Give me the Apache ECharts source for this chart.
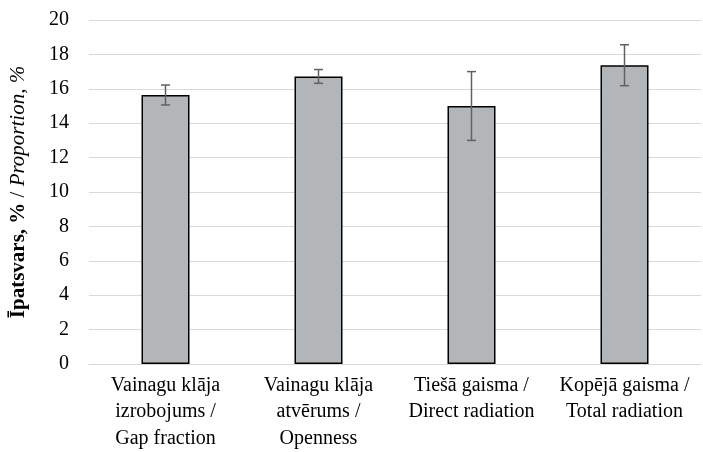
<!DOCTYPE html>
<html>
<head>
<meta charset="utf-8">
<script src="https://cdn.jsdelivr.net/npm/echarts@6/dist/echarts.min.js"></script>
<style>html,body{margin:0;padding:0;background:#fff;}#c{width:703px;height:452px;}</style>
</head>
<body>
<div id="c"></div>
<script>
const categories = [
  'Vainagu klāja\nizrobojums /\nGap fraction',
  'Vainagu klāja\natvērums /\nOpenness',
  'Tiešā gaisma /\nDirect radiation',
  'Kopējā gaisma /\nTotal radiation'
];
const values = [15.64, 16.72, 15.0, 17.37];
const errors = [0.58, 0.4, 2.0, 1.19];
const yTicks = { min: 0, max: 20, interval: 2 };

const chart = echarts.init(document.getElementById('c'), null, { renderer: 'canvas' });
const font = '"Liberation Serif", "Times New Roman", serif';

const errData = values.map((v, i) => [i, v - errors[i], v + errors[i]]);

chart.setOption({
  animation: false,
  backgroundColor: '#fff',
  grid: { left: 89, right: 2, top: 20, bottom: 88, containLabel: false, outerBoundsMode: 'none' },
  xAxis: {
    type: 'category',
    data: categories,
    axisLine: { lineStyle: { color: '#d9d9d9', width: 1 } },
    axisTick: { show: false },
    axisLabel: { fontFamily: font, fontSize: 20, color: '#000', lineHeight: 26.5, margin: 8, interval: 0 }
  },
  yAxis: {
    type: 'value',
    min: yTicks.min, max: yTicks.max, interval: yTicks.interval,
    axisLine: { show: false },
    axisTick: { show: false },
    splitLine: { lineStyle: { color: '#d9d9d9', width: 1 } },
    axisLabel: { fontFamily: font, fontSize: 20, color: '#000', margin: 20 },
    name: '{b|Īpatsvars, %} {n|/} {i|Proportion, %}',
    nameLocation: 'middle',
    nameRotate: 90,
    nameGap: 60,
    nameTextStyle: {
      fontFamily: font, fontSize: 21, color: '#000',
      rich: {
        b: { fontFamily: font, fontSize: 21, fontWeight: 'bold', color: '#000' },
        n: { fontFamily: font, fontSize: 21, color: '#000' },
        i: { fontFamily: font, fontSize: 21, fontStyle: 'italic', color: '#000' }
      }
    }
  },
  series: [
    {
      type: 'bar',
      data: values,
      barWidth: 48,
      itemStyle: { color: '#b3b6b9', borderColor: '#000', borderWidth: 1.5 }
    },
    {
      type: 'custom',
      data: errData,
      z: 10,
      renderItem: function (params, api) {
        const x = api.value(0);
        const lo = api.coord([x, api.value(1)]);
        const hi = api.coord([x, api.value(2)]);
        const hw = 4.5;
        const style = { stroke: '#5f6264', lineWidth: 1.5 };
        return {
          type: 'group',
          children: [
            { type: 'line', shape: { x1: lo[0], y1: lo[1], x2: hi[0], y2: hi[1] }, style: style },
            { type: 'line', shape: { x1: lo[0] - hw, y1: lo[1], x2: lo[0] + hw, y2: lo[1] }, style: style },
            { type: 'line', shape: { x1: hi[0] - hw, y1: hi[1], x2: hi[0] + hw, y2: hi[1] }, style: style }
          ]
        };
      }
    }
  ]
});
</script>
</body>
</html>
